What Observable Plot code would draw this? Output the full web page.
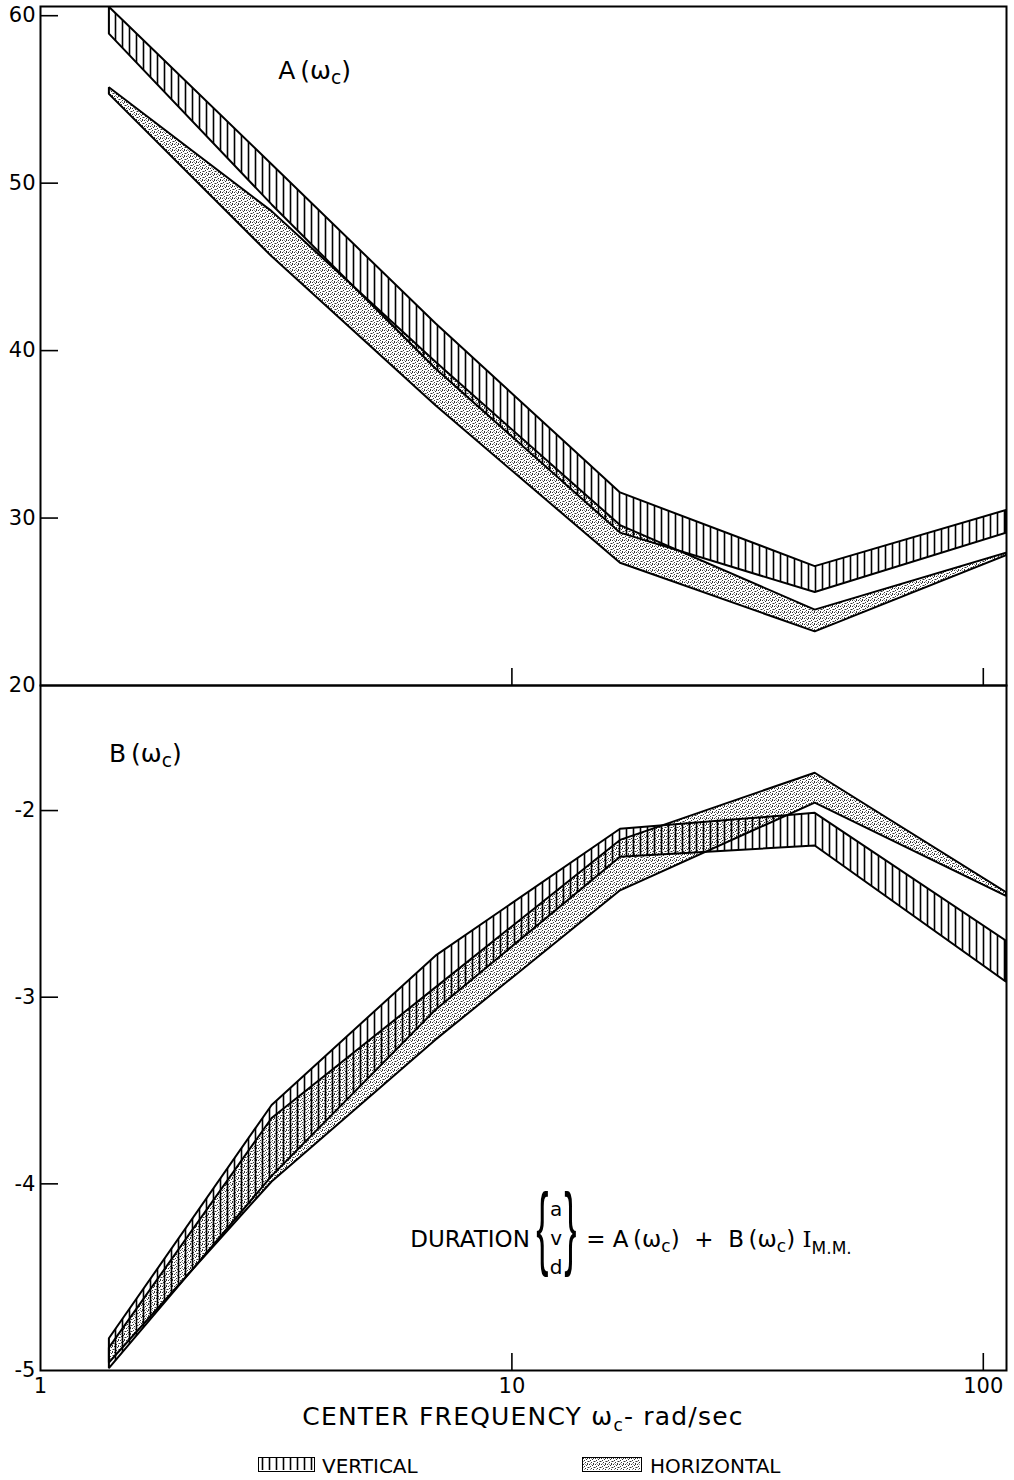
<!DOCTYPE html>
<html><head><meta charset="utf-8">
<script src="https://cdn.jsdelivr.net/npm/d3@7"></script>
<script src="https://cdn.jsdelivr.net/npm/@observablehq/plot@0.6"></script>
<style>
body{margin:0;background:#fff;}
#wrap{position:relative;width:1014px;height:1480px;font-family:'DejaVu Sans','Liberation Sans',sans-serif;color:#000;}
.abs{position:absolute;}
#xlabel{left:40px;width:966px;top:1402px;text-align:center;font-size:25px;letter-spacing:1.2px;}
#xlabel sub{font-size:17px;vertical-align:-6px;}
.legtxt{font-size:20px;top:1454px;}
.sw{top:1457px;height:15px;border:1.5px solid #000;box-sizing:border-box;}
</style></head><body>
<svg width="0" height="0" style="position:absolute">
<defs>
<pattern id="vhatch" patternUnits="userSpaceOnUse" width="7" height="10">
<line x1="3.5" y1="-1" x2="3.5" y2="11" stroke="#000" stroke-width="1.6"/>
</pattern>
<pattern id="stipple" patternUnits="userSpaceOnUse" width="6" height="6">
<rect width="6" height="6" fill="#fff"/>
<g fill="#333">
<rect x="0" y="0" width="1" height="1"/><rect x="3" y="1" width="1" height="1"/>
<rect x="1" y="2" width="1" height="1"/><rect x="5" y="3" width="1" height="1"/>
<rect x="2" y="4" width="1" height="1"/><rect x="4" y="5" width="1" height="1"/>
<rect x="4" y="0" width="1" height="1"/>
</g>
<g fill="#999">
<rect x="2" y="0" width="1" height="1"/><rect x="0" y="3" width="1" height="1"/>
<rect x="4" y="3" width="1" height="1"/><rect x="1" y="5" width="1" height="1"/>
</g>
</pattern>
</defs></svg>
<div id="wrap">
<div id="top" class="abs" style="left:0;top:0"></div>
<div id="bot" class="abs" style="left:0;top:680px"></div>
<div id="xlabel" class="abs">CENTER FREQUENCY ω<sub>c</sub>- rad/sec</div>
<div class="abs sw" style="left:258px;width:57px"><svg width="54" height="12" style="display:block"><rect width="54" height="12" fill="url(#vhatch)"/></svg></div>
<div class="abs legtxt" style="left:322px">VERTICAL</div>
<div class="abs sw" style="left:582px;width:60px"><svg width="57" height="12" style="display:block"><rect width="57" height="12" fill="url(#stipple)"/></svg></div>
<div class="abs legtxt" style="left:650px">HORIZONTAL</div>
</div>
<script>
const FONT = "'DejaVu Sans','Liberation Sans',sans-serif";

// centre frequencies (rad/sec)
const freq = [1.4, 3.1, 6.9, 17, 44, 112];
const xTicks = [1, 10, 100];
const aTicks = [20, 30, 40, 50, 60];
const bTicks = [-5, -4, -3, -2];

// A(wc) bands
const aVertHi = [60.5, 51.1, 41.6, 31.5, 27.1, 30.45];
const aVertLo = [58.9, 48.7, 38.9, 29.1, 25.55, 29.1];
const aHorHi  = [55.7, 48.3, 39.3, 29.55, 24.5, 27.9];
const aHorLo  = [55.3, 45.6, 36.7, 27.3, 23.2, 27.75];

// B(wc) bands
const bVertHi = [-4.83, -3.58, -2.78, -2.10, -2.015, -2.70];
const bVertLo = [-4.99, -3.96, -3.07, -2.25, -2.19, -2.92];
const bHorHi  = [-4.88, -3.65, -2.95, -2.16, -1.80, -2.44];
const bHorLo  = [-4.96, -3.99, -3.23, -2.43, -1.96, -2.46];

const band = (lo, hi) => freq.map((f, i) => ({f, lo: lo[i], hi: hi[i]}));

const W = 1014, ML = 40, MR = 8;
const frameW = W - ML - MR;
const TICK = 18;

function bandMarks(V, H) {
  return [
    Plot.areaY(H, {x: "f", y1: "lo", y2: "hi", fill: "url(#stipple)", stroke: "#000", strokeWidth: 2, strokeLinejoin: "miter", clip: true}),
    Plot.areaY(V, {x: "f", y1: "lo", y2: "hi", fill: "url(#vhatch)", stroke: "#000", strokeWidth: 2, strokeLinejoin: "miter", clip: true})
  ];
}

const style = {fontFamily: FONT, fontSize: "21px", background: "transparent", color: "#000", overflow: "visible"};
const fmt = d => String(d);

// ---- top panel A(wc)
const topH = 690, topMT = 6, topMB = 5;
const topPlot = Plot.plot({
  width: W, height: topH, marginTop: topMT, marginBottom: topMB, marginLeft: ML, marginRight: MR,
  style,
  x: {type: "log", domain: [1, 112], axis: null},
  y: {domain: [20, 60.55], label: null},
  marks: [
    ...bandMarks(band(aVertLo, aVertHi), band(aHorLo, aHorHi)),
    Plot.ruleY(aTicks.slice(1), {stroke: "#000", strokeWidth: 1.6, insetRight: frameW - TICK}),
    Plot.ruleX(xTicks.slice(1), {stroke: "#000", strokeWidth: 1.6, insetTop: (topH - topMT - topMB) - 17}),
    Plot.axisY(aTicks, {tickSize: 0, tickPadding: 5, label: null, fontSize: 21, tickFormat: fmt}),
    Plot.frame({stroke: "#000", strokeWidth: 2})
  ]
});
document.getElementById("top").append(topPlot);

// ---- bottom panel B(wc)
const botH = 720, botMT = 5, botMB = 30;
const botPlot = Plot.plot({
  width: W, height: botH, marginTop: botMT, marginBottom: botMB, marginLeft: ML, marginRight: MR,
  style,
  x: {type: "log", domain: [1, 112], label: null},
  y: {domain: [-5, -1.33], label: null},
  marks: [
    ...bandMarks(band(bVertLo, bVertHi), band(bHorLo, bHorHi)),
    Plot.ruleY(bTicks.slice(1), {stroke: "#000", strokeWidth: 1.6, insetRight: frameW - TICK}),
    Plot.ruleX(xTicks.slice(1), {stroke: "#000", strokeWidth: 1.6, insetTop: (botH - botMT - botMB) - 17}),
    Plot.axisY(bTicks, {tickSize: 0, tickPadding: 5, label: null, fontSize: 21, tickFormat: fmt}),
    Plot.axisX(xTicks, {tickSize: 0, tickPadding: 8, label: null, fontSize: 21, tickFormat: fmt}),
    Plot.frame({stroke: "#000", strokeWidth: 2})
  ]
});
document.getElementById("bot").append(botPlot);

// ---- annotations (real text with subscripts)
function fnLabel(svg, x, y, name, size) {
  const t = d3.select(svg).append("text")
    .attr("x", x).attr("y", y).attr("text-anchor", "start")
    .attr("font-family", FONT).attr("font-size", size).attr("fill", "#000");
  t.append("tspan").text(name + "\u2009(ω");
  t.append("tspan").attr("dy", 5).attr("font-size", size * 0.75).text("c");
  t.append("tspan").attr("dy", -5).text(")");
  return t;
}
const tx = topPlot.scale("x"), ty = topPlot.scale("y");
fnLabel(topPlot, tx.apply(3.2), ty.apply(56.2), "A", 25);
const bx = botPlot.scale("x"), by = botPlot.scale("y");
fnLabel(botPlot, bx.apply(1.4), by.apply(-1.74), "B", 25);

// formula
const g = d3.select(botPlot).append("g").attr("font-family", FONT).attr("fill", "#000").attr("text-anchor", "start");
const fx = bx.apply(6.1), fy = by.apply(-4.34);
g.append("text").attr("x", fx).attr("y", fy).attr("font-size", 23).text("DURATION");
const BR = "'Liberation Sans',sans-serif";
g.append("text").attr("transform", `translate(${fx + 126},${fy + 11}) scale(0.4,1)`).attr("font-family", BR).attr("font-size", 92).text("{");
g.append("text").attr("transform", `translate(${fx + 154},${fy + 11}) scale(0.4,1)`).attr("font-family", BR).attr("font-size", 92).text("}");
[["a", -31], ["v", -2], ["d", 27]].forEach(([c, d]) =>
  g.append("text").attr("x", fx + 146).attr("y", fy + d).attr("font-size", 20).attr("text-anchor", "middle").text(c));
const eq = g.append("text").attr("x", fx + 176).attr("y", fy).attr("font-size", 23);
eq.append("tspan").text("= A\u2009(ω");
eq.append("tspan").attr("dy", 5).attr("font-size", 17).text("c");
eq.append("tspan").attr("dy", -5).text(")  +  B\u2009(ω");
eq.append("tspan").attr("dy", 5).attr("font-size", 17).text("c");
eq.append("tspan").attr("dy", -5).text(") ");
eq.append("tspan").attr("font-family", "'DejaVu Serif','Liberation Serif',serif").text("I");
eq.append("tspan").attr("dy", 7).attr("font-size", 17).text("M.M.");
</script>
</body></html>
